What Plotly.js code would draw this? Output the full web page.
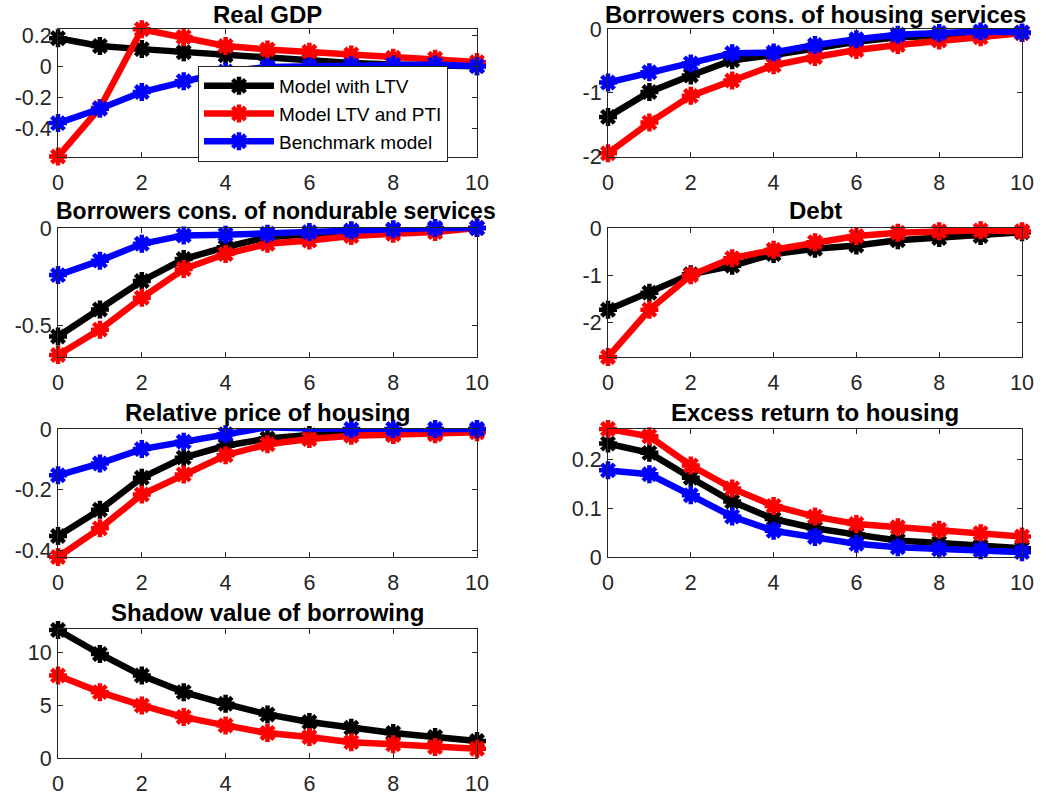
<!DOCTYPE html>
<html>
<head>
<meta charset="utf-8">
<script src="https://cdn.plot.ly/plotly-3.0.1.min.js"></script>
<style>
html,body{margin:0;padding:0;background:#fff;}
#chart{width:1048px;height:797px;}
</style>
</head>
<body>
<div id="chart"></div>
<script>
// ---------- data ----------
const steps = [0,1,2,3,4,5,6,7,8,9,10];
const seriesNames = ["Model with LTV", "Model LTV and PTI", "Benchmark model"];
const panelTitles = [
  "Real GDP",
  "Borrowers cons. of housing services",
  "Borrowers cons. of nondurable services",
  "Debt",
  "Relative price of housing",
  "Excess return to housing",
  "Shadow value of borrowing"
];

// Real GDP
const gdpLTV   = [0.18, 0.13, 0.11, 0.09, 0.07, 0.05, 0.035, 0.02, 0.01, 0.005, 0.0];
const gdpPTI   = [-0.584, -0.27, 0.238, 0.188, 0.13, 0.108, 0.093, 0.076, 0.054, 0.048, 0.026];
const gdpBench = [-0.368, -0.275, -0.167, -0.097, -0.035, -0.005, 0.0, 0.005, 0.01, 0.01, 0.0];

// Borrowers cons. of housing services
const housLTV   = [-1.38, -0.99, -0.73, -0.49, -0.41, -0.30, -0.20, -0.13, -0.10, -0.075, -0.064];
const housPTI   = [-1.95, -1.47, -1.05, -0.81, -0.57, -0.44, -0.33, -0.25, -0.18, -0.13, -0.064];
const housBench = [-0.84, -0.68, -0.54, -0.38, -0.37, -0.25, -0.16, -0.09, -0.064, -0.04, -0.053];

// Borrowers cons. of nondurable services
const nondLTV   = [-0.555, -0.417, -0.271, -0.159, -0.098, -0.047, -0.029, -0.017, -0.012, -0.007, 0.0];
const nondPTI   = [-0.65, -0.52, -0.357, -0.21, -0.133, -0.081, -0.064, -0.041, -0.029, -0.021, 0.0];
const nondBench = [-0.241, -0.167, -0.081, -0.038, -0.034, -0.029, -0.021, -0.012, -0.007, 0.0, 0.0];

// Debt
const debtLTV = [-1.73, -1.37, -0.98, -0.80, -0.55, -0.44, -0.37, -0.26, -0.21, -0.17, -0.09];
const debtPTI = [-2.73, -1.73, -1.00, -0.64, -0.46, -0.30, -0.17, -0.10, -0.07, -0.05, -0.07];

// Relative price of housing
const priceLTV   = [-0.351, -0.265, -0.16, -0.094, -0.055, -0.031, -0.02, -0.015, -0.017, -0.011, -0.005];
const pricePTI   = [-0.42, -0.326, -0.215, -0.149, -0.086, -0.05, -0.033, -0.022, -0.02, -0.017, -0.011];
const priceBench = [-0.152, -0.113, -0.066, -0.042, -0.017, 0.006, 0.002, 0.0, 0.0, 0.0, 0.0];

// Excess return to housing
const retLTV   = [0.233, 0.214, 0.163, 0.114, 0.078, 0.059, 0.046, 0.034, 0.029, 0.022, 0.018];
const retPTI   = [0.263, 0.248, 0.188, 0.141, 0.105, 0.083, 0.068, 0.061, 0.056, 0.049, 0.042];
const retBench = [0.178, 0.17, 0.127, 0.083, 0.054, 0.041, 0.027, 0.02, 0.016, 0.014, 0.01];

// Shadow value of borrowing
const shadowLTV = [12.1, 9.84, 7.8, 6.23, 5.13, 4.12, 3.4, 2.86, 2.36, 1.98, 1.6];
const shadowPTI = [7.8, 6.23, 4.97, 3.87, 3.08, 2.36, 1.98, 1.5, 1.29, 1.04, 0.88];

// tick values / labels
const xTickVals = [0, 2, 4, 6, 8, 10];
const xTickText = ["0", "2", "4", "6", "8", "10"];
const yTicks = [
  {vals: [-0.4, -0.2, 0, 0.2], text: ["-0.4", "-0.2", "0", "0.2"], range: [-0.587, 0.24]},
  {vals: [-2, -1, 0], text: ["-2", "-1", "0"], range: [-2.01, 0.0]},
  {vals: [-0.5, 0], text: ["-0.5", "0"], range: [-0.66, 0.0]},
  {vals: [-2, -1, 0], text: ["-2", "-1", "0"], range: [-2.73, 0.0]},
  {vals: [-0.4, -0.2, 0], text: ["-0.4", "-0.2", "0"], range: [-0.42, 0.0]},
  {vals: [0, 0.1, 0.2], text: ["0", "0.1", "0.2"], range: [0.0, 0.263]},
  {vals: [0, 5, 10], text: ["0", "5", "10"], range: [0.0, 12.2]}
];

const panelSeries = [
  [gdpLTV, gdpPTI, gdpBench],
  [housLTV, housPTI, housBench],
  [nondLTV, nondPTI, nondBench],
  [debtLTV, debtPTI, null],
  [priceLTV, pricePTI, priceBench],
  [retLTV, retPTI, retBench],
  [shadowLTV, shadowPTI, null]
];

// ---------- layout geometry (pixels) ----------
const W = 1048, H = 797;
const colX = [[58, 477], [608, 1022]];
const rowY = [[29, 157], [228, 357], [429, 557], [629, 758]];
const colors = ["#000000", "#ff0000", "#0000ff"];
const FONT = "Liberation Sans, Arial, Helvetica, sans-serif";

const traces = [];
const layout = {
  width: W, height: H,
  margin: {l: 0, r: 0, t: 0, b: 0},
  paper_bgcolor: "#ffffff",
  plot_bgcolor: "#ffffff",
  font: {family: FONT, color: "#262626"},
  showlegend: true,
  legend: {
    x: 198 / W, y: 1 - 66 / H, xanchor: "left", yanchor: "top",
    bgcolor: "#ffffff", bordercolor: "#262626", borderwidth: 1,
    font: {family: FONT, size: 19, color: "#000000"},
    tracegroupgap: 0, itemwidth: 70
  },
  annotations: []
};

panelTitles.forEach((title, i) => {
  const col = i % 2, row = Math.floor(i / 2);
  const n = i + 1;
  const xa = "xaxis" + (n === 1 ? "" : n), ya = "yaxis" + (n === 1 ? "" : n);
  const xs = "x" + (n === 1 ? "" : n), ys = "y" + (n === 1 ? "" : n);
  const [x0, x1] = colX[col];
  const [yt, yb] = rowY[row];
  const common = {
    showline: true, mirror: "allticks", linecolor: "#262626", linewidth: 1,
    ticks: "inside", ticklen: 5, tickwidth: 1, tickcolor: "#262626",
    showgrid: false, zeroline: false, fixedrange: true,
    tickfont: {family: FONT, size: 21.5, color: "#262626"}
  };
  layout[xa] = Object.assign({}, common, {
    domain: [x0 / W, x1 / W], anchor: ys, range: [0, 10],
    tickmode: "array", tickvals: xTickVals, ticktext: xTickText,
    ticklabelstandoff: 6
  });
  layout[ya] = Object.assign({}, common, {
    domain: [1 - yb / H, 1 - yt / H], anchor: xs,
    range: yTicks[i].range,
    tickmode: "array", tickvals: yTicks[i].vals, ticktext: yTicks[i].text,
    ticklabelstandoff: 1
  });
  // title placement
  let ty = 1 - (yt - 17) / H, yanch = "middle";
  let tx = (x0 + x1) / 2 / W, xanch = "center", tsize = 24;
  if (row === 0) { ty = 1 - 1 / H; yanch = "top"; }
  if (i === 2) { tx = 56 / W; xanch = "left"; tsize = 23; }
  layout.annotations.push({
    text: "<b>" + title + "</b>", xref: "paper", yref: "paper",
    x: tx, y: ty,
    xanchor: xanch, yanchor: yanch, showarrow: false,
    borderpad: 0, borderwidth: 0,
    font: {family: FONT, size: tsize, color: "#000000"}
  });
  panelSeries[i].forEach((vals, s) => {
    if (!vals) return;
    traces.push({
      x: steps, y: vals, xaxis: xs, yaxis: ys,
      type: "scatter", mode: "lines+markers",
      name: seriesNames[s],
      showlegend: i === 0,
      cliponaxis: false,
      line: {color: colors[s], width: 6.5},
      marker: {symbol: "asterisk-open", size: 15, color: colors[s],
               line: {color: colors[s], width: 4.5}}
    });
  });
});

Plotly.newPlot("chart", traces, layout, {staticPlot: true, displayModeBar: false});
</script>
</body>
</html>
